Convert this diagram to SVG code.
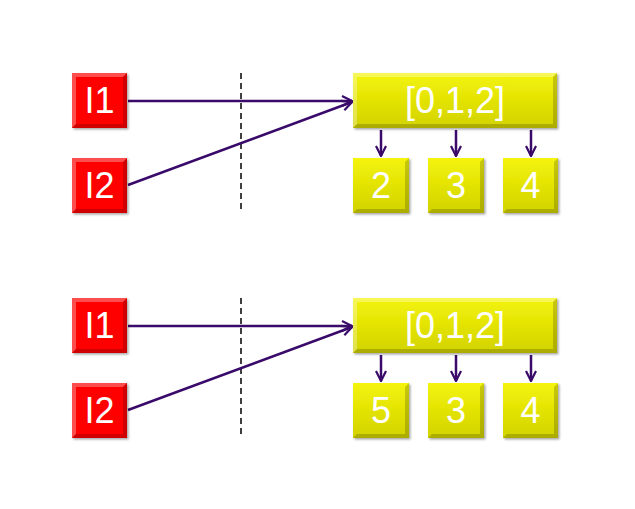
<svg xmlns="http://www.w3.org/2000/svg" width="635" height="509" viewBox="0 0 635 509">
<defs>
<linearGradient id="gy" x1="0" y1="0" x2="0" y2="1"><stop offset="0" stop-color="#f4f40a"/><stop offset="1" stop-color="#d2d200"/></linearGradient>
<marker id="ah" viewBox="0 0 12 12" refX="11" refY="6" markerWidth="12" markerHeight="12" markerUnits="userSpaceOnUse" orient="auto"><path d="M1,1 L11,6 L1,11" fill="none" stroke="#3a0a6a" stroke-width="2.2"/></marker>
<filter id="sh" x="-10%" y="-10%" width="130%" height="130%"><feDropShadow dx="1.5" dy="1.5" stdDeviation="1" flood-color="#000" flood-opacity="0.35"/></filter>
</defs>
<style>
.r{fill:#fe0000;filter:url(#sh)}
.y{fill:url(#gy);filter:url(#sh)}
.hl{fill:#fff;opacity:0.3}
.dk{fill:#000;opacity:0.18}
.t{font-family:"Liberation Sans",Arial,sans-serif;font-size:36px;fill:#fff;text-anchor:middle}
.c{stroke:#3a0a6a;stroke-width:2.5;fill:none}
.d{stroke:#000;stroke-width:1.5;stroke-dasharray:6,4}
</style>
<g id="connectors">
<line class="d" x1="241" y1="73" x2="241" y2="213"/>
<line class="c" x1="128" y1="101" x2="352" y2="101" marker-end="url(#ah)"/>
<line class="c" x1="128" y1="185" x2="352" y2="102" marker-end="url(#ah)"/>
<line class="c" x1="381" y1="130" x2="381" y2="156" marker-end="url(#ah)"/>
<line class="c" x1="456" y1="130" x2="456" y2="156" marker-end="url(#ah)"/>
<line class="c" x1="531" y1="130" x2="531" y2="156" marker-end="url(#ah)"/>
<line class="d" x1="241" y1="298" x2="241" y2="438"/>
<line class="c" x1="128" y1="326" x2="352" y2="326" marker-end="url(#ah)"/>
<line class="c" x1="128" y1="410" x2="352" y2="327" marker-end="url(#ah)"/>
<line class="c" x1="381" y1="355" x2="381" y2="381" marker-end="url(#ah)"/>
<line class="c" x1="456" y1="355" x2="456" y2="381" marker-end="url(#ah)"/>
<line class="c" x1="531" y1="355" x2="531" y2="381" marker-end="url(#ah)"/>
</g>
<g id="top">
<g id="i1a"><rect class="r" x="72" y="73" width="55" height="55"/><path class="hl" d="M72,73 h55 l-4,4 h-47 v47 l-4,4z"/><path class="dk" d="M127,128 h-55 l4,-4 h47 v-47 l4,-4z"/><text class="t" x="99.5" y="113">I1</text></g>
<g id="i2a"><rect class="r" x="72" y="158" width="55" height="55"/><path class="hl" d="M72,158 h55 l-4,4 h-47 v47 l-4,4z"/><path class="dk" d="M127,213 h-55 l4,-4 h47 v-47 l4,-4z"/><text class="t" x="99.5" y="198">I2</text></g>
<g id="lista"><rect class="y" x="353" y="73" width="204" height="55"/><path class="hl" d="M353,73 h204 l-4,4 h-196 v47 l-4,4z"/><path class="dk" d="M557,128 h-204 l4,-4 h196 v-47 l4,-4z"/><text class="t" x="455" y="113">[0,1,2]</text></g>
<g id="a2"><rect class="y" x="353" y="158" width="56" height="55"/><path class="dk" d="M409,213 h-56 l4,-4 h48 v-47 l4,-4z"/><text class="t" x="381" y="198">2</text></g>
<g id="a3"><rect class="y" x="428" y="158" width="56" height="55"/><path class="dk" d="M484,213 h-56 l4,-4 h48 v-47 l4,-4z"/><text class="t" x="456" y="198">3</text></g>
<g id="a4"><rect class="y" x="503" y="158" width="55" height="55"/><path class="dk" d="M558,213 h-55 l4,-4 h47 v-47 l4,-4z"/><text class="t" x="530.5" y="198">4</text></g>
</g>
<g id="bottom">
<g id="i1b"><rect class="r" x="72" y="298" width="55" height="55"/><path class="hl" d="M72,298 h55 l-4,4 h-47 v47 l-4,4z"/><path class="dk" d="M127,353 h-55 l4,-4 h47 v-47 l4,-4z"/><text class="t" x="99.5" y="338">I1</text></g>
<g id="i2b"><rect class="r" x="72" y="383" width="55" height="55"/><path class="hl" d="M72,383 h55 l-4,4 h-47 v47 l-4,4z"/><path class="dk" d="M127,438 h-55 l4,-4 h47 v-47 l4,-4z"/><text class="t" x="99.5" y="423">I2</text></g>
<g id="listb"><rect class="y" x="353" y="298" width="204" height="55"/><path class="hl" d="M353,298 h204 l-4,4 h-196 v47 l-4,4z"/><path class="dk" d="M557,353 h-204 l4,-4 h196 v-47 l4,-4z"/><text class="t" x="455" y="338">[0,1,2]</text></g>
<g id="b5"><rect class="y" x="353" y="383" width="56" height="55"/><path class="dk" d="M409,438 h-56 l4,-4 h48 v-47 l4,-4z"/><text class="t" x="381" y="423">5</text></g>
<g id="b3"><rect class="y" x="428" y="383" width="56" height="55"/><path class="dk" d="M484,438 h-56 l4,-4 h48 v-47 l4,-4z"/><text class="t" x="456" y="423">3</text></g>
<g id="b4"><rect class="y" x="503" y="383" width="55" height="55"/><path class="dk" d="M558,438 h-55 l4,-4 h47 v-47 l4,-4z"/><text class="t" x="530.5" y="423">4</text></g>
</g>
</svg>
